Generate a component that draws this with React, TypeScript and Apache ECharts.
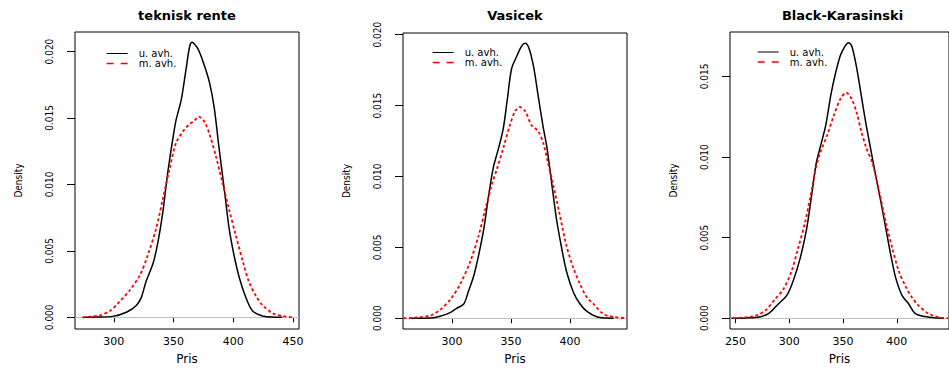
import React, { useEffect, useRef } from 'react';
import * as echarts from 'echarts';

const panelTitles = ['teknisk rente', 'Vasicek', 'Black-Karasinski'];
const seriesNames = ['u. avh.', 'm. avh.'];
const xAxisName = 'Pris';
const yAxisName = 'Density';

const xTicks1 = [300, 350, 400, 450];
const xTicks2 = [300, 350, 400];
const xTicks3 = [250, 300, 350, 400];
const yTicks1 = [0, 0.005, 0.01, 0.015, 0.02];
const yTicks2 = [0, 0.005, 0.01, 0.015, 0.02];
const yTicks3 = [0, 0.005, 0.01, 0.015];

// teknisk rente
const tekniskU = [
  [274, 0], [285, 0.00002], [299, 0.00007], [311, 0.0004], [319, 0.0009], [323, 0.0015], [327, 0.0027],
  [333, 0.0041], [337, 0.0057], [341, 0.0079], [345, 0.0108], [349.5, 0.0135], [352, 0.0148],
  [356.5, 0.0164], [360.5, 0.0187], [363.5, 0.0204], [365.5, 0.0207], [369, 0.0204], [371.5, 0.02],
  [376, 0.0189], [380, 0.0177], [384, 0.0158], [388, 0.0128], [392.5, 0.0096], [396.5, 0.0067],
  [401, 0.0045], [405, 0.003], [410.5, 0.0015], [416, 0.0005], [424.5, 0.0001], [435, 0.00001], [441, 0],
];
const tekniskM = [
  [274, 0], [288, 0.00015], [297, 0.0005], [305, 0.0012], [313, 0.002], [322, 0.0032], [328.5, 0.0047],
  [335.5, 0.0067], [341, 0.0089], [346.5, 0.0111], [352, 0.0131], [358, 0.014], [363, 0.0145],
  [367.5, 0.0148], [371, 0.0151], [376, 0.0147], [380, 0.0138], [385.5, 0.0121], [391, 0.0101],
  [396.5, 0.0081], [402, 0.0062], [408, 0.0042], [413, 0.0027], [419, 0.0016], [424.5, 0.0009],
  [433, 0.0003], [441, 0.0001], [449, 0],
];
// Vasicek
const vasicekU = [
  [265, 0], [282, 0.00002], [290, 0.00014], [298.5, 0.0004], [304, 0.0007], [310, 0.001], [314, 0.0019],
  [318.5, 0.003], [322.5, 0.0044], [327, 0.0063], [331, 0.0086], [335, 0.0106], [339.5, 0.012],
  [343.5, 0.0134], [347, 0.0155], [350.5, 0.0176], [355, 0.0185], [359, 0.0192], [362, 0.0194],
  [365, 0.0191], [369, 0.0178], [373, 0.0157], [377, 0.0136], [380.5, 0.012], [384.5, 0.0095],
  [388.5, 0.007], [393, 0.0049], [397, 0.0033], [403, 0.0018], [408.5, 0.001], [414, 0.0005],
  [422.5, 0.0001], [431, 0.00001], [437, 0],
];
const vasicekM = [
  [259, 0], [270, 0.00005], [282, 0.0002], [290, 0.0006], [298.5, 0.0013], [307, 0.0024], [315.5, 0.004],
  [322.5, 0.0058], [328, 0.0076], [334, 0.0095], [338, 0.0105], [343.5, 0.012], [349, 0.0136],
  [353.5, 0.0146], [357.5, 0.0149], [362, 0.0146], [367.5, 0.0136], [373, 0.0132], [377.5, 0.0123],
  [381.5, 0.0109], [386, 0.0093], [391.5, 0.0072], [397, 0.0051], [403, 0.0035], [408.5, 0.0024],
  [414, 0.0015], [420, 0.001], [428, 0.0003], [436.5, 0.0001], [448, 0],
];
// Black-Karasinski
const bkU = [
  [246, 0], [260, 0.00002], [272, 0.00008], [281, 0.0003], [290, 0.0009], [297.5, 0.0014], [303.5, 0.0023],
  [310, 0.0037], [316, 0.0055], [320.5, 0.0075], [325, 0.0096], [329.5, 0.0108], [334, 0.012],
  [338.5, 0.0138], [343, 0.0152], [347.5, 0.0163], [352, 0.0169], [355, 0.0171], [358, 0.0169],
  [362.5, 0.0156], [367, 0.0138], [371.5, 0.012], [376, 0.0104], [380.5, 0.0088], [385, 0.0073],
  [390, 0.0055], [394.5, 0.0039], [399, 0.0025], [405, 0.0014], [411, 0.0009], [417, 0.0003],
  [426, 0.0001], [438, 0.00001], [444, 0],
];
const bkM = [
  [248, 0], [263, 0.00008], [270.5, 0.0002], [278, 0.0005], [287, 0.0012], [294.5, 0.0018], [302, 0.0029],
  [308, 0.0043], [314.5, 0.0059], [319.5, 0.0075], [325, 0.0094], [329.5, 0.0104], [335.5, 0.0114],
  [341.5, 0.0126], [347.5, 0.0136], [353, 0.014], [358, 0.0136], [362.5, 0.0128], [367, 0.0116],
  [371.5, 0.0106], [377.5, 0.0096], [383.5, 0.0079], [390, 0.0059], [396, 0.0043], [402, 0.0029],
  [408, 0.002], [414, 0.0013], [420, 0.0008], [429, 0.0003], [440, 0.00005], [448, 0],
];

const NARROW = '"Liberation Sans Narrow", "DejaVu Sans Condensed", "Liberation Sans", sans-serif';
const WIDE = '"DejaVu Sans", Verdana, sans-serif';

export default function App() {
  const ref = useRef<HTMLDivElement>(null);

  useEffect(() => {
    if (!ref.current) return;
    const chart = echarts.init(ref.current, null, { renderer: 'svg' });

    const panels = [
      { title: panelTitles[0], grid: { left: 75, top: 32, width: 224, height: 304 }, xMin: 267.5, xMax: 455, yMin: -0.00088, yMax: 0.02147, xTicks: xTicks1, yTicks: yTicks1, u: tekniskU, m: tekniskM, legend: { left: 106, top: 48.5 } },
      { title: panelTitles[1], grid: { left: 403, top: 33, width: 224, height: 302 }, xMin: 258.6, xMax: 448.2, yMin: -0.00076, yMax: 0.02012, xTicks: xTicks2, yTicks: yTicks2, u: vasicekU, m: vasicekM, legend: { left: 432, top: 47.5 } },
      { title: panelTitles[2], grid: { left: 730, top: 32, width: 225, height: 303 }, xMin: 244.8, xMax: 448.6, yMin: -0.00067, yMax: 0.01776, xTicks: xTicks3, yTicks: yTicks3, u: bkU, m: bkM, legend: { left: 757, top: 47 } },
    ];

    const option: any = {
      animation: false,
      backgroundColor: '#ffffff',
      title: panels.map((p) => ({
        text: p.title,
        left: p.grid.left + p.grid.width / 2,
        top: 9,
        textAlign: 'center',
        padding: 0,
        textStyle: { fontFamily: WIDE, fontWeight: 'bold', fontSize: 13, color: '#000' },
      })),
      legend: panels.map((p) => ({
        left: p.legend.left,
        top: p.legend.top,
        orient: 'vertical',
        itemWidth: 21,
        itemHeight: 9,
        itemGap: 0,
        padding: 0,
        selectedMode: false,
        itemStyle: { opacity: 0 },
        data: [
          { name: seriesNames[0], lineStyle: { width: 1, type: 'solid', color: '#000' } },
          { name: seriesNames[1], lineStyle: { width: 1.3, type: [7, 7], color: '#ff0000' } },
        ],
        textStyle: { fontFamily: WIDE, fontSize: 10, lineHeight: 9, color: '#000', padding: [0, 0, 0, 6] },
      })),
      grid: panels.map((p) => ({
        ...p.grid,
        show: true,
        borderColor: '#000',
        borderWidth: 1,
        backgroundColor: 'transparent',
        containLabel: false,
      })),
      xAxis: panels.map((p, i) => ({
        type: 'value',
        gridIndex: i,
        min: p.xMin,
        max: p.xMax,
        name: xAxisName,
        nameLocation: 'middle',
        nameGap: 24,
        nameTextStyle: { fontFamily: WIDE, fontSize: 12, color: '#000' },
        axisLine: { show: false },
        splitLine: { show: false },
        axisTick: { show: true, inside: false, length: 5, customValues: p.xTicks, lineStyle: { color: '#000' } },
        axisLabel: {
          show: true, customValues: p.xTicks, margin: 7, fontFamily: WIDE, fontSize: 11, color: '#000',
          lineHeight: 11, formatter: (v: number) => String(Math.round(v)),
        },
      })),
      yAxis: panels.map((p, i) => ({
        type: 'value',
        gridIndex: i,
        min: p.yMin,
        max: p.yMax,
        name: yAxisName,
        nameLocation: 'middle',
        nameRotate: 90,
        nameGap: 52,
        nameTextStyle: { fontFamily: NARROW, fontSize: 10, color: '#000' },
        axisLine: { show: false },
        splitLine: { show: false },
        axisTick: { show: true, inside: false, length: 8, customValues: p.yTicks, lineStyle: { color: '#000' } },
        axisLabel: {
          show: true, customValues: p.yTicks, rotate: 90, margin: 21, align: 'center', verticalAlign: 'bottom',
          fontFamily: NARROW, fontSize: 10, color: '#000', formatter: (v: number) => v.toFixed(3),
        },
      })),
      series: panels.flatMap((p, i) => [
        {
          name: seriesNames[0],
          type: 'line',
          xAxisIndex: i,
          yAxisIndex: i,
          data: p.u,
          showSymbol: false,
          symbol: 'none',
          smooth: 0.3,
          lineStyle: { color: '#000000', width: 1.5, type: 'solid' },
          itemStyle: { color: '#000000' },
          z: 3,
          markLine: {
            silent: true,
            symbol: ['none', 'none'],
            label: { show: false },
            lineStyle: { color: '#bebebe', type: 'solid', width: 1 },
            data: [{ yAxis: 0 }],
            z: 1,
          },
        },
        {
          name: seriesNames[1],
          type: 'line',
          xAxisIndex: i,
          yAxisIndex: i,
          data: p.m,
          showSymbol: false,
          symbol: 'none',
          smooth: 0.3,
          lineStyle: { color: '#ff0000', width: 1.8, type: [3, 2.5] },
          itemStyle: { color: '#ff0000' },
          z: 4,
        },
      ]),
    };

    chart.setOption(option);
    return () => chart.dispose();
  }, []);

  return (
    <div
      ref={ref}
      style={{ position: 'absolute', left: 0, top: 0, width: 949, height: 370, background: '#fff', overflow: 'hidden' }}
    />
  );
}
